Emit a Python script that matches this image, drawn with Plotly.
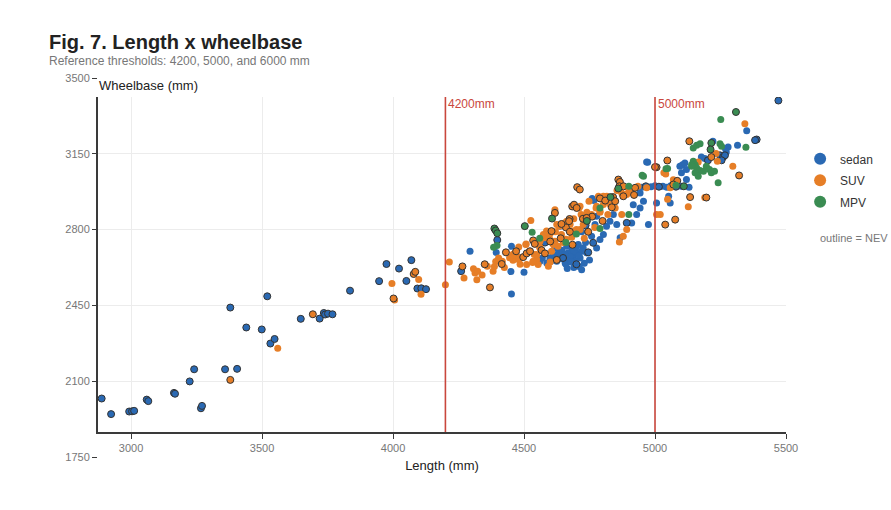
import plotly.graph_objects as go

# ---------------- data ----------------
# sedan, NEV (outlined)
sedan_nev_len = [2888, 2924, 2993, 3004, 3012, 3060, 3066, 3164, 3168, 3224,
                 3241, 3267, 3271, 3359, 3379, 3405, 3440, 3499, 3520, 3532,
                 3548, 3648, 3720, 3736, 3741, 3752, 3769, 3836, 3947, 3975,
                 4023, 4051, 4070, 4093, 4108, 4126, 4260, 4398, 4700, 4745,
                 4735, 4580, 4965, 5015, 5080, 5202, 5248, 5260, 5267, 5254,
                 5388, 5382, 5471, 4649, 4764, 4892]
sedan_nev_wb = [2020, 1948, 1960, 1961, 1963, 2015, 2008, 2046, 2042, 2099,
                2155, 1975, 1986, 2155, 2440, 2157, 2348, 2339, 2492, 2274,
                2295, 2388, 2389, 2415, 2408, 2412, 2409, 2518, 2562, 2641,
                2620, 2563, 2659, 2528, 2529, 2525, 2608, 2752, 2640, 2695,
                2820, 2740, 3000, 2998, 2998, 3120, 3143, 3135, 3143, 3120,
                3216, 3213, 3396, 2669, 2739, 2831]
# sedan, non-NEV
sedan_len = [4294, 4394, 4452, 4450, 4452, 4500, 4557, 4570, 4602, 4637,
             4625, 4638, 4657, 4668, 4663, 4682, 4688, 4701, 4714, 4707,
             4726, 4739, 4777, 4758, 4790, 4803, 4771, 4777, 4815, 4828,
             4841, 4854, 4867, 4911, 4930, 4943, 4956, 4917, 4975, 4943,
             4561, 4599, 4618, 4549, 4587, 4610, 4630, 4645, 4670, 4690,
             4695, 4720, 4735, 4660, 4675, 4700, 4640, 4655, 4710, 4680,
             4972, 5006, 5052, 5058, 4760, 4767, 4720,
             4950, 4985, 5000, 5030, 5045, 5060, 5100, 5120, 5130,
             5095, 5105, 5114, 5101, 5120, 5177, 5190, 5269, 5279, 5272,
             5221, 5315, 5350, 4968,
             4690, 4710, 4730, 4750, 4665, 4720]
sedan_wb = [2700, 2694, 2723, 2606, 2503, 2603, 2740, 2669, 2654, 2816,
            2654, 2700, 2646, 2692, 2723, 2715, 2677, 2692, 2669, 2731,
            2715, 2692, 2715, 2769, 2754, 2777, 2823, 2862, 2816, 2839,
            2870, 2823, 2762, 2831, 2870, 2900, 2931, 2915, 2823, 2969,
            2654, 2669, 2716, 2739, 2646, 2680, 2690, 2705, 2660, 2700,
            2655, 2700, 2740, 2640, 2675, 2720, 2665, 2685, 2680, 2650,
            3111, 2923, 2954, 2923, 2944, 2934, 2790,
            2995, 2998, 3002, 3000, 2996, 3002, 3000, 3031, 2995,
            3093, 3100, 3108, 3062, 3077, 3135, 3128, 3173, 3181, 3158,
            3208, 3189, 3257, 3112,
            2625, 2630, 2645, 2660, 2620, 2615]

# SUV, NEV (outlined)
suv_nev_len = [3379, 3694, 4002, 4079, 4085, 4265, 4370, 4415, 4431, 4497,
               4535, 4541, 4567, 4618, 4660, 4675, 4703, 4713, 4684, 4691,
               4674, 4672, 4643, 4790, 4810, 4835, 4860, 4866, 4864, 4879,
               5006, 5039, 5077, 5131, 5215, 5047, 5000, 5321, 5085, 5134,
               5196, 4580, 4600, 4640, 4685, 4725, 4760, 4800, 4840, 4880,
               4920, 4625, 4510, 4470, 4350, 4745, 4701, 4739, 4605, 4523,
               4848, 4924, 5070]
suv_nev_wb = [2106, 2409, 2482, 2595, 2605, 2630, 2533, 2641, 2695, 2673,
              2750, 2734, 2705, 2877, 2810, 2790, 2996, 2985, 2907, 2915,
              2849, 2839, 2826, 2944, 2934, 2903, 3031, 3020, 3000, 2954,
              3088, 2823, 2846, 3208, 3135, 3119, 3089, 3050, 3025, 2950,
              2948, 2690, 2745, 2760, 2730, 2850, 2860, 2840, 2950, 3000,
              2960, 2660, 2690, 2700, 2640, 2790, 2900, 2854, 2793, 2700,
              2931, 2993, 3008]
# SUV, non-NEV
suv_len = [3560, 3996, 4006, 4098, 4107, 4200, 4215, 4271, 4307, 4313,
           4323, 4320, 4360, 4382, 4387, 4392, 4403, 4417, 4458, 4458,
           4473, 4485, 4507, 4526, 4539, 4548, 4554, 4533, 4576, 4586,
           4599, 4593, 4605, 4618, 4630, 4643, 4668, 4682, 4690, 4710,
           4718, 4655, 4634, 4748, 4784, 4803, 4816, 4829, 4848, 4873,
           4892, 5041, 5020, 5048, 4864, 5233, 5238, 5165, 5034, 5297,
           5070, 5127, 5343, 4560, 4620, 4650, 4660, 4700, 4740, 4775,
           4790, 4820, 4855, 4900, 4935, 4600, 4520, 4480, 4445, 4425,
           4340, 4730, 4770,
           4485, 4508, 4561, 4587, 4599, 4612, 4618, 4676, 4663, 4688,
           4714, 4726, 4758, 4777, 4790, 4803, 4815, 4714, 4726, 4625,
           4574, 4561, 4549, 4535, 4510, 4479, 4466, 4879, 4892, 4873,
           4886, 4905, 4968, 5006, 5058, 5190]
suv_wb = [2252, 2551, 2475, 2570, 2502, 2545, 2650, 2577, 2619, 2600,
          2608, 2568, 2631, 2608, 2630, 2653, 2669, 2654, 2686, 2659,
          2677, 2640, 2731, 2842, 2685, 2662, 2639, 2648, 2762, 2793,
          2780, 2631, 2700, 2746, 2723, 2777, 2840, 2765, 2850, 2900,
          2870, 2831, 2815, 2931, 2954, 2954, 2954, 2916, 2900, 2969,
          2962, 3057, 2870, 2940, 2743, 3151, 3116, 3112, 3062, 3093,
          3030, 2905, 3289, 2720, 2790, 2740, 2755, 2800, 2880, 2900,
          2880, 2870, 2980, 2985, 3000, 2650, 2700, 2720, 2670, 2625,
          2590, 2760, 2810,
          2669, 2734, 2715, 2762, 2754, 2731, 2892, 2823, 2839, 2793,
          2800, 2823, 2870, 2908, 2885, 2916, 2931, 2908, 2862, 2823,
          2777, 2746, 2685, 2654, 2639, 2662, 2692, 2769, 2800, 2870,
          2962, 2977, 2993, 2870, 2993, 2948]

# MPV, NEV (outlined)
mpv_nev_len = [4387, 4392, 4398, 4503, 4607, 4860, 5309, 5215, 5212, 4740, 4830, 5110]
mpv_nev_wb = [2805, 2796, 2783, 2816, 2851, 2990, 3343, 3200, 3170, 2840, 2950, 3000]
# MPV, non-NEV
mpv_len = [4397, 4384, 4531, 4956, 5048, 4951, 5251, 5347, 5146, 5159,
           5172, 5248, 5254, 5146, 5153, 5140, 5159, 5172, 5185, 5196,
           5208, 5215, 5227, 5140, 5153, 5165, 5042, 5241, 4700, 4790,
           4900, 5080, 4560, 4660, 4790, 4900]
mpv_wb = [2727, 2719, 2788, 3046, 3082, 3051, 3308, 3180, 3177, 3190,
          3196, 3196, 3185, 3116, 3100, 3100, 3085, 3073, 3070, 3093,
          3077, 3062, 3070, 3093, 3062, 3046, 3081, 3016, 2780, 2900,
          3000, 3005, 2760, 2740, 2805, 2870]

thresholds = [4200, 5000]
threshold_labels = ["4200mm", "5000mm"]
y_ticks = [1750, 2100, 2450, 2800, 3150, 3500]
x_ticks = [3000, 3500, 4000, 4500, 5000, 5500]

categories = ["sedan", "SUV", "MPV"]
colors = {"sedan": "#2a69b3", "SUV": "#e67e27", "MPV": "#3a8c52"}
series = {
    "sedan": ((sedan_len, sedan_wb), (sedan_nev_len, sedan_nev_wb)),
    "SUV": ((suv_len, suv_wb), (suv_nev_len, suv_nev_wb)),
    "MPV": ((mpv_len, mpv_wb), (mpv_nev_len, mpv_nev_wb)),
}

# ---------------- layout geometry ----------------
y_full = [1750, 3500]
dom_lo, dom_hi = 0.066, 0.950        # inner data frame within the gridded area
y_inner = [y_full[0] + dom_lo * (y_full[1] - y_full[0]),
           y_full[0] + dom_hi * (y_full[1] - y_full[0])]
x_range = [2874, 5500]

FONT = "Liberation Sans, Arial, Helvetica, sans-serif"
AXIS_COL = "#3a3a3a"
RED = "#c9473d"

fig = go.Figure()

# empty trace so the gridded background subplot (x / y) is rendered
fig.add_trace(go.Scatter(x=[None], y=[None], xaxis="x", yaxis="y",
                         showlegend=False, hoverinfo="skip"))

for cat in categories:
    for is_nev, (xs, ys) in enumerate(series[cat]):
        fig.add_trace(go.Scatter(
            x=xs, y=ys, mode="markers", name=cat, legendgroup=cat,
            showlegend=(is_nev == 0), xaxis="x2", yaxis="y2",
            marker=dict(size=7, color=colors[cat],
                        line=dict(width=1 if is_nev else 0,
                                  color="#333333" if is_nev else colors[cat])),
        ))

shapes = []
annotations = []
for t, lab in zip(thresholds, threshold_labels):
    shapes.append(dict(type="line", xref="x2", yref="y2 domain", x0=t, x1=t, y0=0, y1=1,
                       line=dict(color=RED, width=1.6)))
    annotations.append(dict(x=t, xref="x2", y=1, yref="y2 domain", text=lab, showarrow=False,
                            xanchor="left", yanchor="top", xshift=1, yshift=2,
                            font=dict(size=12, color=RED, family=FONT)))

annotations += [
    dict(text="<b>Fig. 7. Length x wheelbase</b>", xref="paper", yref="paper",
         x=-0.0741, y=1.095, xanchor="left", yanchor="middle", showarrow=False,
         font=dict(size=20, color="#222222", family=FONT)),
    dict(text="Reference thresholds: 4200, 5000, and 6000 mm", xref="paper", yref="paper",
         x=-0.0741, y=1.045, xanchor="left", yanchor="middle", showarrow=False,
         font=dict(size=12, color="#777777", family=FONT)),
    dict(text="Wheelbase (mm)", xref="paper", yref="paper", x=-0.002, y=0.981,
         xanchor="left", yanchor="middle", showarrow=False,
         font=dict(size=13, color="#222222", family=FONT)),
    dict(text="outline = NEV", xref="paper", yref="paper", x=1.047, y=0.578,
         xanchor="left", yanchor="middle", showarrow=False,
         font=dict(size=11, color="#777777", family=FONT)),
]

fig.update_layout(
    width=891, height=510,
    margin=dict(l=98, r=105, t=78, b=53, autoexpand=False),
    paper_bgcolor="white", plot_bgcolor="rgba(0,0,0,0)",
    font=dict(family=FONT, size=11, color="#444444"),
    showlegend=True,
    legend=dict(xref="container", yref="container", x=0.898, y=0.717,
                xanchor="left", yanchor="top",
                font=dict(size=12, color="#333333", family=FONT),
                itemsizing="constant", tracegroupgap=2.5),
    shapes=shapes, annotations=annotations,
    # background gridded axes
    xaxis=dict(domain=[0, 1], range=x_range, anchor="y", visible=False, fixedrange=True),
    yaxis=dict(domain=[0, 1], range=y_full, anchor="x", tickvals=y_ticks,
               ticks="outside", ticklen=5, tickcolor=AXIS_COL, tickwidth=1,
               showgrid=True, gridcolor="#ececec", gridwidth=1, zeroline=False,
               showline=False, tickfont=dict(size=11, color="#777777")),
    # data axes
    xaxis2=dict(domain=[0, 1], range=x_range, anchor="y2", tickvals=x_ticks,
                ticks="outside", ticklen=5, tickcolor=AXIS_COL, tickwidth=1,
                showline=True, linecolor=AXIS_COL, linewidth=1.5,
                showgrid=True, gridcolor="#ececec", gridwidth=1, zeroline=False,
                tickfont=dict(size=11, color="#777777"),
                title=dict(text="Length (mm)", standoff=8,
                           font=dict(size=13, color="#222222"))),
    yaxis2=dict(domain=[dom_lo, dom_hi], range=y_inner, anchor="x2",
                showline=True, linecolor=AXIS_COL, linewidth=1.5,
                showgrid=False, zeroline=False, showticklabels=False, ticks=""),
)

fig.write_html("out.html")
